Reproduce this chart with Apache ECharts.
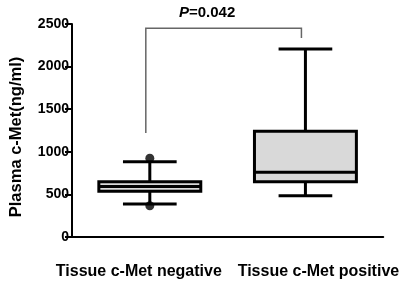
<!DOCTYPE html>
<html>
<head>
<meta charset="utf-8">
<script src="https://cdn.jsdelivr.net/npm/echarts@6/dist/echarts.min.js"></script>
<style>html,body{margin:0;padding:0;background:#fff}#c{width:400px;height:281px}</style>
</head>
<body>
<div id="c"></div>
<script>
var categories = ['Tissue c-Met negative', 'Tissue c-Met positive'];
// [min, Q1, median, Q3, max]
var boxNegative = [387, 537, 592, 648, 884];
var boxPositive = [485, 649, 761, 1241, 2207];
var outliersNegative = [924, 367];
var yTicks = [0, 500, 1000, 1500, 2000, 2500];
var bracketValues = [1220, 2450, 2336]; // left bottom, top, right bottom
var pLabel = '0.042';

var FONT = '"Liberation Sans", Arial, sans-serif';
var boxData = [[0].concat(boxNegative), [1].concat(boxPositive)];
var outlierData = outliersNegative.map(function (v) { return [0, v]; });
var labelStyle = {color: '#000', fontFamily: FONT, fontWeight: 'bold', fontSize: 16};

var chart = echarts.init(document.getElementById('c'), null, {renderer: 'canvas'});
chart.setOption({
  animation: false,
  backgroundColor: '#fff',
  title: {
    text: '{i|P}{b|=' + pLabel + '}',
    left: 174, top: 0,
    textStyle: {
      rich: {
        i: {fontFamily: FONT, fontWeight: 'bold', fontStyle: 'italic', fontSize: 15, color: '#000'},
        b: {fontFamily: FONT, fontWeight: 'bold', fontSize: 15, color: '#000'}
      }
    }
  },
  grid: {left: 66.7, right: 13.3, top: 24, bottom: 44},
  xAxis: {
    type: 'category',
    data: categories,
    boundaryGap: true,
    axisLine: {lineStyle: {color: '#000', width: 2}},
    axisTick: {alignWithLabel: true, length: 7, lineStyle: {color: '#000', width: 2}},
    axisLabel: {
      interval: 0, color: '#000', fontFamily: FONT, fontWeight: 'bold', fontSize: 16, margin: 27,
      formatter: function (v, i) { return (i === 0 ? '{a|' : '{b|') + v + '}'; },
      rich: {
        a: Object.assign({padding: [0, 22, 0, 0]}, labelStyle),
        b: Object.assign({padding: [0, 0, 0, 26]}, labelStyle)
      }
    }
  },
  yAxis: {
    type: 'value',
    min: yTicks[0], max: yTicks[yTicks.length - 1], interval: 500,
    name: 'Plasma c-Met(ng/ml)',
    nameLocation: 'middle',
    nameGap: 47,
    nameTextStyle: {color: '#000', fontFamily: FONT, fontWeight: 'bold', fontSize: 16.5, padding: [0, 0, 0, -13]},
    axisLine: {show: true, lineStyle: {color: '#000', width: 2}},
    axisTick: {show: true, length: 7, lineStyle: {color: '#000', width: 2}},
    axisLabel: {color: '#000', fontFamily: FONT, fontWeight: 'bold', fontSize: 14, margin: 3,
      formatter: function (v) { return String(v); }},
    splitLine: {show: false}
  },
  series: [
    {
      type: 'custom',
      data: boxData,
      encode: {x: 0, y: [1, 2, 3, 4, 5]},
      renderItem: function (params, api) {
        var idx = api.value(0);
        var band = api.size([1, 0])[0];
        var hw = band * 0.655 / 2;
        var cw = band * 0.345 / 2;
        var pMin = api.coord([idx, api.value(1)]);
        var pQ1 = api.coord([idx, api.value(2)]);
        var pMed = api.coord([idx, api.value(3)]);
        var pQ3 = api.coord([idx, api.value(4)]);
        var pMax = api.coord([idx, api.value(5)]);
        var x = pMin[0];
        var st = {stroke: '#000', lineWidth: 3};
        return {
          type: 'group',
          children: [
            {type: 'line', shape: {x1: x, y1: pMax[1], x2: x, y2: pQ3[1]}, style: st},
            {type: 'line', shape: {x1: x, y1: pQ1[1], x2: x, y2: pMin[1]}, style: st},
            {type: 'line', shape: {x1: x - cw, y1: pMax[1], x2: x + cw, y2: pMax[1]}, style: st},
            {type: 'line', shape: {x1: x - cw, y1: pMin[1], x2: x + cw, y2: pMin[1]}, style: st},
            {type: 'rect', shape: {x: x - hw, y: pQ3[1], width: 2 * hw, height: pQ1[1] - pQ3[1]},
              style: {fill: '#d9d9d9', stroke: '#000', lineWidth: 3}},
            {type: 'line', shape: {x1: x - hw, y1: pMed[1], x2: x + hw, y2: pMed[1]}, style: st}
          ]
        };
      },
      z: 3
    },
    {
      type: 'scatter',
      data: outlierData,
      symbol: 'circle',
      symbolSize: 9,
      itemStyle: {color: '#000'},
      z: 4
    },
    {
      type: 'custom',
      data: [[0, 1, bracketValues[0], bracketValues[1], bracketValues[2]]],
      encode: {x: [0, 1], y: [2, 3, 4]},
      renderItem: function (params, api) {
        var a = api.coord([api.value(0), api.value(2)]);
        var b = api.coord([api.value(0), api.value(3)]);
        var c = api.coord([api.value(1), api.value(3)]);
        var d = api.coord([api.value(1), api.value(4)]);
        var off = -4;
        return {
          type: 'polyline',
          shape: {points: [[a[0] + off, a[1]], [b[0] + off, b[1]], [c[0] + off, c[1]], [d[0] + off, d[1]]]},
          style: {stroke: '#666', lineWidth: 1.5, fill: null}
        };
      },
      z: 2
    }
  ]
});
</script>
</body>
</html>
